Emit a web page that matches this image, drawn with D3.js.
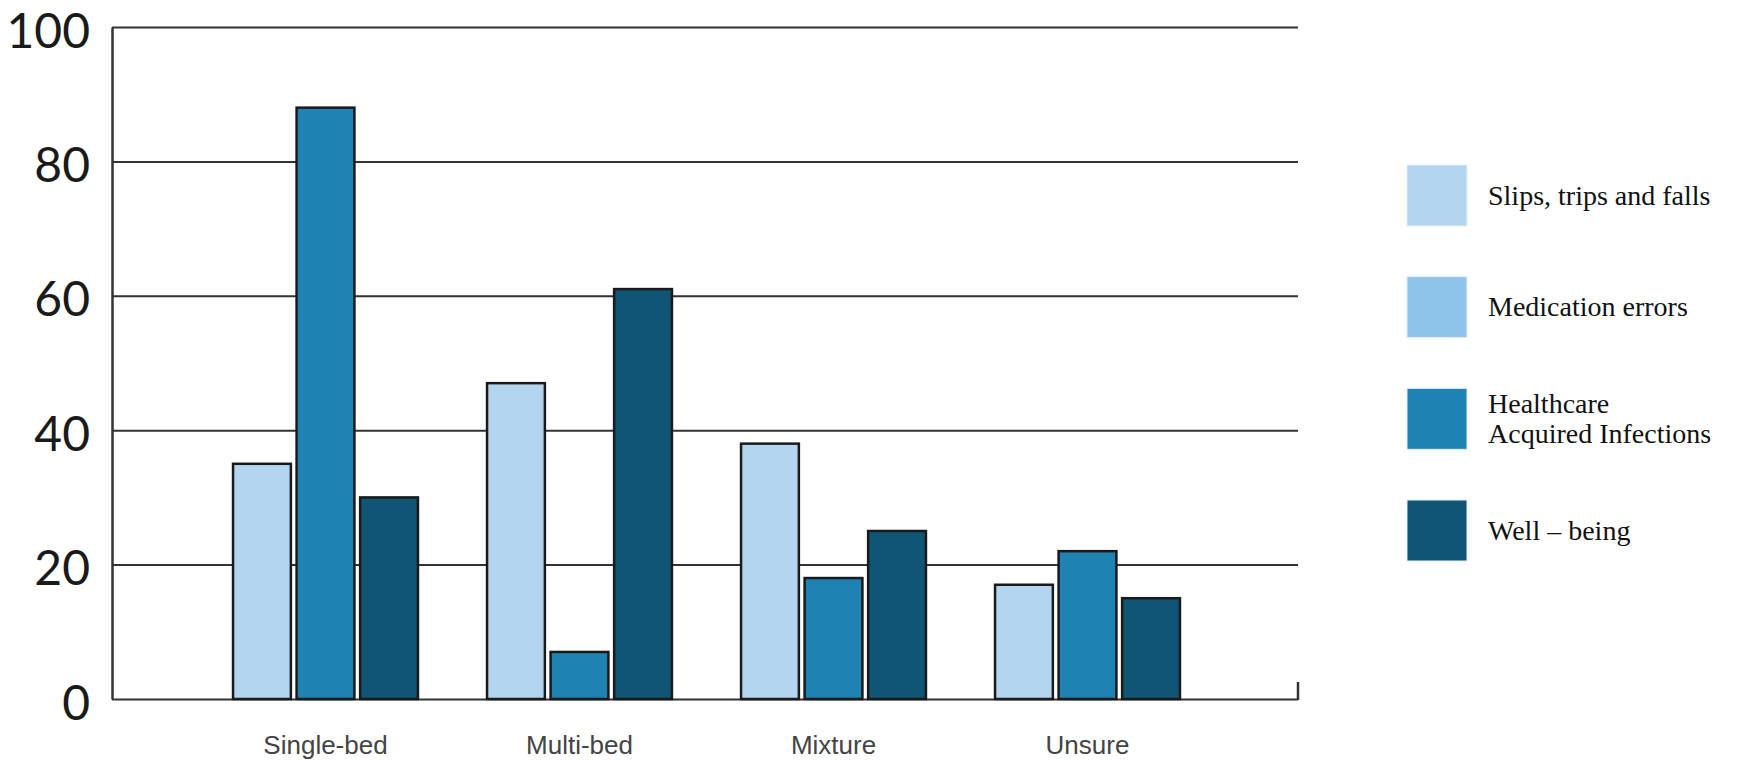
<!DOCTYPE html>
<html>
<meta charset="utf-8">
<title>Ward type and patient safety</title>
<style>
	body {
		margin: 0;
		background-color: #ffffff;
	}

	.y.axis text {
		font: 400 48px "Lato";
		fill: #1a1a1a;
	}

	.x.axis text {
		font: 400 26px "Liberation Sans";
		fill: #444444;
	}

	.legend text {
		font: 400 28px "Liberation Serif";
		fill: #111111;
	}
</style>

<body>
	<div id="chart"></div>
</body>

<script src="https://d3js.org/d3.v7.min.js"></script>
<script>

	// Data
	var categories = ["Single-bed", "Multi-bed", "Mixture", "Unsure"];
	var legendLabels = ["Slips, trips and falls", "Medication errors", "Healthcare\nAcquired Infections", "Well \u2013 being"];
	var legendColors = ["#b3d5f0", "#8fc5ea", "#1e83b2", "#115574"];

	var slipsValues = [35, 47, 38, 17];
	var healthcareValues = [88, 7, 18, 22];
	var wellbeingValues = [30, 61, 25, 15];

	var yTicks = [0, 20, 40, 60, 80, 100];

	// Only three of the four legend series have bars
	var barSeries = [
		{ key: "slips", color: legendColors[0], values: slipsValues },
		{ key: "healthcare", color: legendColors[2], values: healthcareValues },
		{ key: "wellbeing", color: legendColors[3], values: wellbeingValues }
	];

	// Chart dimensions
	var width = 1737, height = 761;
	var plotLeft = 112, plotRight = 1298, plotTop = 27, plotBottom = 699;

	var svg = d3.select("#chart").append("svg")
		.attr("width", width)
		.attr("height", height);

	var y = d3.scaleLinear().domain([0, 100]).range([plotBottom, plotTop]);

	var x0 = d3.scaleBand()
		.domain(categories)
		.range([198.5, 1214.5])
		.paddingInner(0.272)
		.paddingOuter(0.136);

	var x1 = d3.scaleBand()
		.domain(barSeries.map(function (d) { return d.key; }))
		.range([0, x0.bandwidth()])
		.paddingInner(0.09);

	// Y axis with gridlines
	var yAxis = d3.axisLeft(y)
		.tickValues(yTicks)
		.tickSize(-(plotRight - plotLeft))
		.tickSizeOuter(0)
		.tickPadding(22)
		.tickFormat(d3.format("d"));

	var yG = svg.append("g")
		.attr("class", "y axis")
		.attr("transform", "translate(" + plotLeft + ",0)")
		.call(yAxis);

	yG.select(".domain").attr("stroke", "#333").attr("stroke-width", 2.5);
	yG.selectAll(".tick line").attr("stroke", "#333").attr("stroke-width", 2);
	yG.selectAll(".tick text").attr("dy", "0.42em");

	// Small upward tick at the right end of the baseline
	svg.append("line")
		.attr("x1", plotRight)
		.attr("x2", plotRight)
		.attr("y1", y(0) + 1)
		.attr("y2", y(0) - 17)
		.attr("stroke", "#333")
		.attr("stroke-width", 2.5);

	// X axis labels
	var xAxis = d3.axisBottom(x0).tickSize(0).tickPadding(37);

	var xG = svg.append("g")
		.attr("class", "x axis")
		.attr("transform", "translate(0," + plotBottom + ")")
		.call(xAxis);

	xG.select(".domain").remove();

	// Bars
	var groups = svg.append("g")
		.attr("class", "bars")
		.selectAll(".group")
		.data(categories)
		.enter().append("g")
		.attr("class", "group")
		.attr("transform", function (d) { return "translate(" + x0(d) + ",0)"; });

	groups.selectAll("rect")
		.data(function (d, i) {
			return barSeries.map(function (s) { return { key: s.key, color: s.color, value: s.values[i] }; });
		})
		.enter().append("rect")
		.attr("x", function (d) { return x1(d.key); })
		.attr("y", function (d) { return y(d.value); })
		.attr("width", x1.bandwidth())
		.attr("height", function (d) { return y(0) - y(d.value); })
		.style("fill", function (d) { return d.color; })
		.attr("stroke", "#1a1a1a")
		.attr("stroke-width", 2.5);

	// Legend
	var legendY = d3.scalePoint()
		.domain(legendLabels)
		.range([165, 500]);

	var legend = svg.append("g")
		.attr("class", "legend")
		.selectAll(".item")
		.data(legendLabels)
		.enter().append("g")
		.attr("class", "item")
		.attr("transform", function (d) { return "translate(1407," + legendY(d) + ")"; });

	legend.append("rect")
		.attr("width", 60)
		.attr("height", 61)
		.style("fill", function (d, i) { return legendColors[i]; })
		.attr("stroke", "#e8f0f6")
		.attr("stroke-width", 1);

	legend.append("text")
		.attr("x", 81)
		.attr("y", 30)
		.each(function (d) {
			var lines = d.split("\n");
			var t = d3.select(this);
			lines.forEach(function (line, k) {
				t.append("tspan")
					.attr("x", 81)
					.attr("dy", k === 0 ? (0.35 - (lines.length - 1) * 0.53) + "em" : "1.07em")
					.text(line);
			});
		});

</script>
</html>
